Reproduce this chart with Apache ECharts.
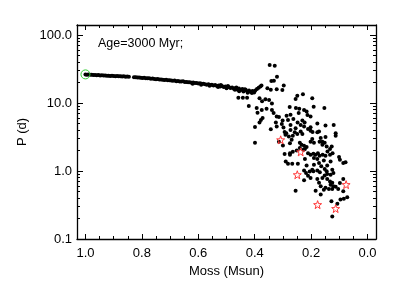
<!DOCTYPE html>
<html><head><meta charset="utf-8">
<script src="https://cdn.jsdelivr.net/npm/echarts@6/dist/echarts.min.js"></script>
<style>html,body{margin:0;padding:0;background:#fff}#c{width:399px;height:288px}</style>
</head><body><div id="c"></div>
<script>
// Sequence (dense strip) of stars: mass (Msun) and period (d)
const seqMass = [1.00,0.995,0.99,0.984,0.978,0.972,0.966,0.96,0.954,0.948,0.942,0.936,0.93,0.924,0.918,0.912,0.906,0.90,0.894,0.888,0.882,0.876,0.87,0.864,0.858,0.852,0.846,0.828,0.822,0.816,0.81,0.804,0.798,0.792,0.786,0.78,0.774,0.768,0.762,0.756,0.75,0.744,0.738,0.732,0.726,0.72,0.714,0.708,0.702,0.696,0.69,0.684,0.678,0.672,0.666,0.66,0.654,0.648,0.642,0.636,0.63,0.624,0.618,0.612,0.606,0.60,0.594,0.588,0.582,0.576,0.57,0.564,0.558,0.552,0.546,0.54,0.534,0.528,0.522,0.516,0.51,0.504,0.498,0.492,0.486,0.48,0.474,0.468,0.462,0.456,0.45,0.444,0.438,0.432,0.426,0.42,0.414,0.408,0.402,0.398,0.392,0.386,0.38,0.376,0.62,0.59,0.56,0.53,0.50,0.47,0.44,0.41,0.455,0.425,0.435,0.465,0.495,0.52];
const seqPeriod = [26.3,26.0,26.2,25.9,26.0,25.7,25.8,25.6,25.7,25.4,25.5,25.3,25.4,25.1,25.2,25.0,25.1,24.9,24.8,24.9,24.6,24.7,24.5,24.6,24.3,24.4,24.2,23.8,23.9,23.6,23.7,23.4,23.3,23.4,23.1,23.0,23.0,22.7,22.8,22.5,22.4,22.5,22.1,22.2,21.9,21.8,21.9,21.5,21.6,21.3,21.2,21.3,20.9,21.0,20.7,20.6,20.8,20.3,20.4,20.1,20.2,19.8,20.0,19.6,19.7,19.3,19.5,19.1,19.2,18.9,18.6,18.9,18.4,18.6,18.1,18.4,17.8,18.0,17.5,17.8,17.2,17.5,16.9,17.2,16.6,16.9,16.2,16.6,15.8,16.3,15.5,16.0,15.2,15.7,14.8,15.3,14.5,15.0,14.2,15.2,16.0,16.8,17.4,18.0,19.2,18.6,17.9,17.2,16.4,15.6,14.7,14.0,14.9,14.1,15.9,16.9,17.7,18.3];

// Scattered low-mass stars
const scatMass = [0.347,0.329,0.321,0.341,0.332,0.297,0.302,0.355,0.249,0.229,0.255,0.458,0.442,0.427,0.383,0.374,0.362,0.339,0.349,0.421,0.393,0.375,0.358,0.276,0.254,0.242,0.216,0.191,0.153,0.339,0.333,0.390,0.372,0.378,0.322,0.314,0.287,0.273,0.263,0.301,0.282,0.399,0.383,0.343,0.322,0.325,0.304,0.298,0.273,0.255,0.248,0.237,0.211,0.202,0.178,0.149,0.120,0.113,0.294,0.288,0.291,0.265,0.249,0.231,0.202,0.195,0.166,0.149,0.160,0.240,0.234,0.300,0.399,0.127,0.231,0.223,0.178,0.196,0.202,0.152,0.160,0.113,0.133,0.142,0.275,0.269,0.240,0.222,0.216,0.190,0.170,0.145,0.294,0.275,0.265,0.251,0.211,0.202,0.192,0.184,0.176,0.170,0.159,0.149,0.133,0.124,0.222,0.178,0.155,0.131,0.101,0.098,0.290,0.282,0.267,0.247,0.216,0.190,0.172,0.164,0.143,0.086,0.078,0.218,0.211,0.192,0.178,0.169,0.152,0.145,0.143,0.152,0.125,0.121,0.225,0.202,0.178,0.172,0.166,0.143,0.133,0.131,0.125,0.121,0.125,0.155,0.149,0.137,0.113,0.104,0.086,0.184,0.166,0.255,0.128,0.107,0.096,0.084,0.072,0.125,0.205,0.160,0.086,0.098,0.131,0.225,0.227,0.190,0.225,0.196,0.314,0.275,0.273,0.258,0.237,0.225,0.279,0.172,0.225,0.244,0.213,0.202,0.196,0.343,0.322];
const scatPeriod = [36.2,35.1,24.3,21.0,21.2,18.1,15.5,16.4,12.8,13.4,11.4,11.9,11.9,11.9,11.7,10.6,11.3,9.8,11.1,9.0,8.4,7.9,8.2,8.7,8.4,8.2,7.5,8.8,8.4,7.9,7.1,7.2,6.0,5.6,6.3,6.2,6.5,6.7,5.8,5.5,5.6,4.45,5.15,4.1,4.5,5.15,4.9,4.35,4.75,4.25,5.15,4.75,4.15,4.4,5.0,4.65,4.75,3.6,3.75,3.6,3.4,3.3,3.5,3.5,3.9,3.75,3.05,3.15,2.7,2.6,2.43,2.37,2.6,2.3,5.5,5.15,3.7,2.95,2.7,2.6,2.43,3.3,2.1,1.94,2.55,2.87,2.18,2.1,2.25,2.6,2.7,2.3,1.77,1.83,1.92,2.0,1.83,1.73,1.79,1.73,1.83,1.68,1.73,1.68,1.73,1.83,1.50,1.50,1.43,1.38,1.60,1.46,1.38,1.28,1.28,1.28,1.20,1.24,1.31,1.17,1.20,1.31,1.34,0.935,0.85,0.99,1.02,0.955,1.07,0.99,0.905,0.855,1.04,0.935,0.73,0.79,0.76,0.67,0.595,0.76,0.70,0.63,0.67,0.595,0.545,0.53,0.565,0.545,0.585,0.545,0.765,0.51,0.45,0.51,0.36,0.33,0.38,0.39,0.41,0.215,0.98,0.79,0.505,0.665,0.88,2.35,2.05,1.55,1.02,1.04,2.7,1.73,4.0,3.7,3.8,4.5,3.2,3.8,7.9,7.1,6.67,6.3,11.7,15.6,15.9];

// Highlighted (red stars)
const starMass = [0.308,0.237,0.249,0.076,0.177,0.113];
const starPeriod = [2.87,1.91,0.88,0.63,0.32,0.28];

// Sun (green circle)
const sunMass = [1.0];
const sunPeriod = [26.3];

// Ticks
const xMajor = [0.0,0.2,0.4,0.6,0.8,1.0];
const xMinor = [0.05,0.1,0.15,0.25,0.3,0.35,0.45,0.5,0.55,0.65,0.7,0.75,0.85,0.9,0.95];
const yMajor = [0.1,1,10,100];
const yMinor = [0.2,0.3,0.4,0.5,0.6,0.7,0.8,0.9,2,3,4,5,6,7,8,9,20,30,40,50,60,70,80,90];
const yLabels = {"0.1":"0.1","1":"1.0","10":"10.0","100":"100.0"};

const X_MIN = -0.03, X_MAX = 1.03, Y_MIN = 0.1, Y_MAX = 140;
const FONT = 'Liberation Sans';

const zip = (a,b) => a.map((v,i)=>[v,b[i]]);

function xAx(pos, ticks, len, showLine, showLabel) {
  return {
    type:'value', position:pos, inverse:true, min:X_MIN, max:X_MAX,
    axisLine:{show:showLine, onZero:false, lineStyle:{color:'#000', width:1.3}},
    axisTick:{show:true, inside:true, length:len, customValues:ticks, lineStyle:{color:'#000', width:1}},
    axisLabel:{show:showLabel, customValues:ticks, margin:8, color:'#000', fontFamily:FONT, fontSize:13,
      formatter: v => Number(v).toFixed(1)},
    splitLine:{show:false}, minorTick:{show:false}
  };
}
function yAx(pos, ticks, len, showLine, showLabel) {
  return {
    type:'log', logBase:10, position:pos, min:Y_MIN, max:Y_MAX,
    axisLine:{show:showLine, onZero:false, lineStyle:{color:'#000', width:1.3}},
    axisTick:{show:true, inside:true, length:len, customValues:ticks, lineStyle:{color:'#000', width:1}},
    axisLabel:{show:showLabel, customValues:ticks, margin:5, color:'#000', fontFamily:FONT, fontSize:13,
      formatter: v => { const k = String(+Number(v).toPrecision(3)); return yLabels[k] !== undefined ? yLabels[k] : ''; }},
    splitLine:{show:false}, minorTick:{show:false}
  };
}

const xAxes = [xAx('bottom', xMajor, 5, true, true), xAx('bottom', xMinor, 3, false, false),
               xAx('top', xMajor, 5, true, false), xAx('top', xMinor, 3, false, false)];
xAxes[0].name = 'Moss (Msun)';
xAxes[0].nameLocation = 'middle';
xAxes[0].nameGap = 24;
xAxes[0].nameTextStyle = {color:'#000', fontFamily:FONT, fontSize:13};

const yAxes = [yAx('left', yMajor, 6, true, true), yAx('left', yMinor, 3, false, false),
               yAx('right', yMajor, 6, true, false), yAx('right', yMinor, 3, false, false)];
yAxes[0].name = 'P (d)';
yAxes[0].nameLocation = 'middle';
yAxes[0].nameGap = 46;
yAxes[0].nameTextStyle = {color:'#000', fontFamily:FONT, fontSize:13};

const starPath = 'path://M0,-10L2.35,-3.24L9.51,-3.09L3.8,1.24L5.88,8.09L0,4L-5.88,8.09L-3.8,1.24L-9.51,-3.09L-2.35,-3.24Z';

const chart = echarts.init(document.getElementById('c'), null, {renderer:'canvas'});
chart.setOption({
  animation:false,
  backgroundColor:'#fff',
  grid:{left:77, right:23, top:25, bottom:49, containLabel:false, outerBoundsMode:'none'},
  xAxis:xAxes,
  yAxis:yAxes,
  graphic:[{type:'text', left:98, top:37, style:{text:'Age=3000 Myr;', fill:'#000', font:'12.5px "Liberation Sans"'}}],
  series:[
    {type:'scatter', data:zip(seqMass, seqPeriod), symbol:'circle', symbolSize:4, itemStyle:{color:'#000', opacity:1}, silent:true},
    {type:'scatter', data:zip(scatMass, scatPeriod), symbol:'circle', symbolSize:4, itemStyle:{color:'#000', opacity:1}, silent:true},
    {type:'scatter', data:zip(starMass, starPeriod), symbol:starPath, symbolSize:8, itemStyle:{color:'rgba(0,0,0,0)', borderColor:'#ff3838', borderWidth:1, opacity:1}, silent:true, z:3},
    {type:'scatter', data:zip(sunMass, sunPeriod), symbol:'circle', symbolSize:9, itemStyle:{color:'rgba(0,0,0,0)', borderColor:'#33cc33', borderWidth:1, opacity:1}, silent:true, z:4}
  ]
});
</script></body></html>
